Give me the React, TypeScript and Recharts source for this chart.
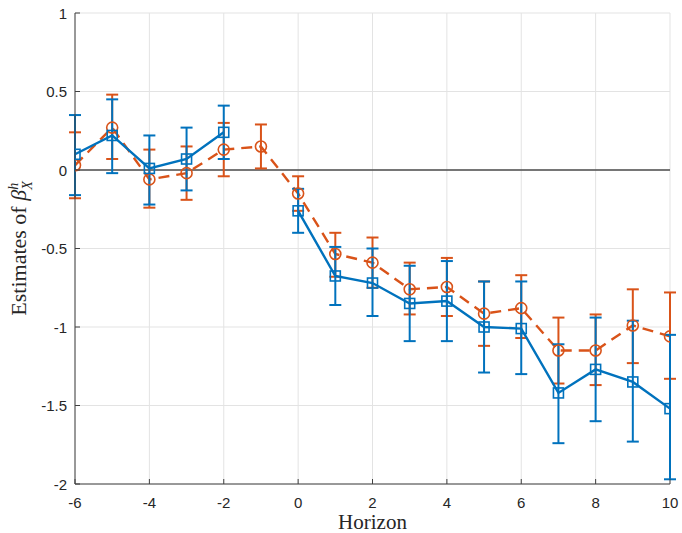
import React from "react";
import {
  LineChart,
  Line,
  XAxis,
  YAxis,
  CartesianGrid,
  ErrorBar,
  ReferenceLine,
} from "recharts";

const horizons = [-6, -5, -4, -3, -2, -1, 0, 1, 2, 3, 4, 5, 6, 7, 8, 9, 10];

const blueEst = [0.1, 0.22, 0.01, 0.07, 0.24, null, -0.26, -0.675, -0.72, -0.85, -0.835, -1.0, -1.01, -1.42, -1.27, -1.35, -1.52];
const blueLo = [-0.16, -0.02, -0.22, -0.13, 0.07, null, -0.4, -0.86, -0.93, -1.09, -1.09, -1.29, -1.3, -1.74, -1.6, -1.73, -1.97];
const blueHi = [0.35, 0.45, 0.22, 0.27, 0.41, null, -0.12, -0.49, -0.5, -0.61, -0.58, -0.71, -0.71, -1.11, -0.94, -0.96, -1.05];

const orangeEst = [0.03, 0.27, -0.06, -0.02, 0.13, 0.15, -0.15, -0.535, -0.59, -0.76, -0.745, -0.915, -0.88, -1.15, -1.15, -0.99, -1.06];
const orangeLo = [-0.18, 0.07, -0.24, -0.19, -0.04, 0.01, -0.26, -0.68, -0.75, -0.92, -0.93, -1.12, -1.07, -1.36, -1.37, -1.23, -1.33];
const orangeHi = [0.24, 0.48, 0.13, 0.15, 0.3, 0.29, -0.04, -0.4, -0.43, -0.59, -0.56, -0.71, -0.67, -0.94, -0.92, -0.76, -0.78];

const xTicks = [-6, -4, -2, 0, 2, 4, 6, 8, 10];
const yTicks = [-2, -1.5, -1, -0.5, 0, 0.5, 1];

const BLUE = "#0072BD";
const ORANGE = "#D95319";
const AXIS = "#404040";
const TEXT = "#262626";

const data = horizons.map((h, i) => ({
  h,
  blue: blueEst[i],
  blueErr: blueEst[i] == null ? null : [blueEst[i]! - blueLo[i]!, blueHi[i]! - blueEst[i]!],
  orange: orangeEst[i],
  orangeErr: [orangeEst[i] - orangeLo[i], orangeHi[i] - orangeEst[i]],
}));

const XTick = (props: any) => {
  const { x, y, payload } = props;
  return (
    <g>
      <line x1={x} x2={x} y1={y} y2={y - 5} stroke={AXIS} strokeWidth={1} />
      <text x={x} y={y + 18} textAnchor="middle" dominantBaseline="central" fontSize={15} fill={TEXT} fontFamily="Liberation Sans, Arial, sans-serif">
        {payload.value}
      </text>
    </g>
  );
};

const YTick = (props: any) => {
  const { x, y, payload } = props;
  return (
    <g>
      <line x1={x} x2={x + 5} y1={y} y2={y} stroke={AXIS} strokeWidth={1} />
      <text x={x - 8} y={y} textAnchor="end" dominantBaseline="central" fontSize={15} fill={TEXT} fontFamily="Liberation Sans, Arial, sans-serif">
        {payload.value}
      </text>
    </g>
  );
};

const SquareDot = (props: any) => {
  const { cx, cy, index } = props;
  if (cx == null || cy == null) return <g key={index} />;
  return <rect key={index} x={cx - 5} y={cy - 5} width={10} height={10} fill="none" stroke={BLUE} strokeWidth={1.6} />;
};

const CircleDot = (props: any) => {
  const { cx, cy, index } = props;
  if (cx == null || cy == null) return <g key={index} />;
  return <circle key={index} cx={cx} cy={cy} r={5.5} fill="none" stroke={ORANGE} strokeWidth={1.6} />;
};

const XLabel = (props: any) => {
  const { viewBox } = props;
  return (
    <text x={viewBox.x + viewBox.width / 2} y={viewBox.y + 38} textAnchor="middle" dominantBaseline="central" fontSize={21} fill={TEXT} fontFamily="Liberation Serif, serif">
      Horizon
    </text>
  );
};

const YLabel = (props: any) => {
  const { viewBox } = props;
  const cx = viewBox.x + viewBox.width - 49;
  const cy = viewBox.y + viewBox.height / 2;
  return (
    <text transform={`translate(${cx},${cy}) rotate(-90)`} textAnchor="middle" fontSize={22} fill={TEXT} fontFamily="Liberation Serif, serif">
      Estimates of <tspan fontStyle="italic">β</tspan>
      <tspan fontStyle="italic" fontSize={14} dy={-8}>h</tspan>
      <tspan fontStyle="italic" fontSize={14} dx={-7} dy={14}>X</tspan>
    </text>
  );
};

export default function App() {
  return (
    <div style={{ position: "absolute", top: 0, left: 0, width: 682, height: 533, background: "#fff" }}>
      <LineChart width={682} height={533} data={data} margin={{ top: 13, right: 12, left: 0, bottom: 0 }}>
        <CartesianGrid stroke="#e3e3e3" strokeWidth={1} />
        <XAxis
          dataKey="h"
          type="number"
          domain={[-6, 10]}
          ticks={xTicks}
          height={49}
          tickSize={0}
          tickMargin={0}
          tickLine={false}
          axisLine={{ stroke: AXIS, strokeWidth: 1 }}
          tick={<XTick />}
          interval={0}
          allowDataOverflow
          label={<XLabel />}
        />
        <YAxis
          type="number"
          domain={[-2, 1]}
          ticks={yTicks}
          width={75}
          tickSize={0}
          tickMargin={0}
          tickLine={false}
          axisLine={{ stroke: AXIS, strokeWidth: 1 }}
          tick={<YTick />}
          interval={0}
          allowDataOverflow
          label={<YLabel />}
        />
        <ReferenceLine y={0} stroke="#4d4d4d" strokeWidth={1.6} />
        <Line
          dataKey="orange"
          stroke={ORANGE}
          strokeWidth={2.4}
          strokeDasharray="11 7"
          dot={<CircleDot />}
          isAnimationActive={false}
        >
          <ErrorBar dataKey="orangeErr" direction="y" width={6} stroke={ORANGE} strokeWidth={2} isAnimationActive={false} />
        </Line>
        <Line
          dataKey="blue"
          stroke={BLUE}
          strokeWidth={2.4}
          dot={<SquareDot />}
          connectNulls={false}
          isAnimationActive={false}
        >
          <ErrorBar dataKey="blueErr" direction="y" width={6} stroke={BLUE} strokeWidth={2} isAnimationActive={false} />
        </Line>
      </LineChart>
    </div>
  );
}
